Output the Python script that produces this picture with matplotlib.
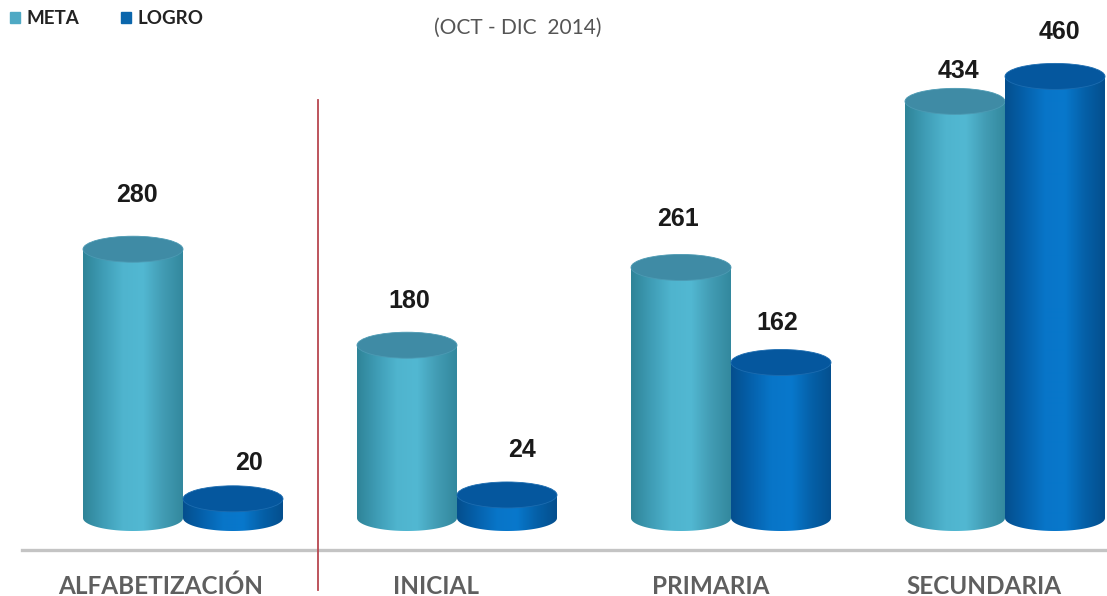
import numpy as np
import matplotlib
matplotlib.use('Agg')
import matplotlib.pyplot as plt
from matplotlib.colors import LinearSegmentedColormap
from matplotlib.patches import Ellipse, Patch, PathPatch
from matplotlib.path import Path

categories = ['ALFABETIZACIÓN', 'INICIAL', 'PRIMARIA', 'SECUNDARIA']
meta = [280, 180, 261, 434]
logro = [20, 24, 162, 460]

# px per unit on the picture: 274 px between groups, 0.96 px per value
PX_X = 274
PX_Y = 0.96
W = 100 / PX_X
RY = 13 / PX_Y

meta_cmap = LinearSegmentedColormap.from_list('meta', ['#2F8498', '#3F9DB6', '#4FB4CE', '#52B8D2', '#429CB4', '#33889E'])
logro_cmap = LinearSegmentedColormap.from_list('logro', ['#044F8E', '#0561AC', '#0875C8', '#0878CC', '#0560A8', '#044F8E'])
shade = np.linspace(0, 1, 200).reshape(1, -1)


def cylinder(ax, x, v, cmap, top, rim):
    left, right = x - W / 2, x + W / 2
    im = ax.imshow(shade, cmap=cmap, aspect='auto', extent=(left, right, -RY, v), zorder=2 + x)
    # body outline with the rounded bottom
    t = np.linspace(np.pi, 2 * np.pi, 60)
    bottom = np.column_stack((x + W / 2 * np.cos(t), RY * np.sin(t)))
    verts = np.vstack(([[left, v]], bottom, [[right, v]], [[left, v]]))
    body = PathPatch(Path(verts), transform=ax.transData, fc='none', ec='none')
    ax.add_patch(body)
    im.set_clip_path(body)
    ax.add_patch(Ellipse((x, v), W, 2 * RY, fc=top, ec=rim, lw=0.6, zorder=2.1 + x))


fig = plt.figure(figsize=(11.07, 5.96), dpi=100)
ax = fig.add_axes([0, 0, 1, 1])
ax.axis('off')

meta_x = [i - 50 / PX_X for i in range(4)]
logro_x = [i + 50 / PX_X for i in range(4)]

for x, v in zip(meta_x, meta):
    cylinder(ax, x, v, meta_cmap, '#3F8BA5', '#4C9AB3')
for x, v in zip(logro_x, logro):
    cylinder(ax, x, v, logro_cmap, '#05579E', '#1C6CB0')

ax.set_xlim(-183 / PX_X, (1107 - 183) / PX_X)
ax.set_ylim(-78 / PX_Y, 518 / PX_Y)

# baseline and red separator
ax.plot([(22 - 183) / PX_X, (1107 - 183) / PX_X], [-33, -33], color='#C4C4C4', lw=2.4, zorder=1)
ax.plot([(318 - 183) / PX_X] * 2, [-75, 435], color='#B8464F', lw=1.3, zorder=1)

# value labels sit at uneven heights in the reference
meta_off = [(4, 54), (2, 44), (-3, 48), (3, 30)]
logro_off = [(16, 36), (15, 45), (-4, 39), (4, 44)]
for xs, vals, offs in ((meta_x, meta, meta_off), (logro_x, logro, logro_off)):
    for x, v, (dx, dy) in zip(xs, vals, offs):
        ax.annotate(str(v), (x, v), xytext=(dx * 0.72, dy * 0.72), textcoords='offset points',
                    ha='center', va='center', fontsize=18, fontweight='bold',
                    family='Liberation Sans', color='#1A1A1A', zorder=10)

label_dx = [-22, -21, -20, -21]
for i, name in enumerate(categories):
    ax.text(i + label_dx[i] / PX_X, -68 / PX_Y, name, ha='center', va='center', fontsize=17.5,
            fontweight='bold', family='Lato', color='#5F5F5F')

ax.text((518 - 183) / PX_X, 490 / PX_Y, '(OCT - DIC  2014)', ha='center', va='center',
        fontsize=15, family='Lato', color='#555555')

handles = [Patch(color='#4FA9C4', label='META'), Patch(color='#0B66AC', label='LOGRO')]
ax.legend(handles=handles, loc='upper left', bbox_to_anchor=(0.009, 0.983), ncol=2, frameon=False,
          borderaxespad=0, borderpad=0, handlelength=0.53, handleheight=0.53, handletextpad=0.37,
          columnspacing=2.2, prop={'family': 'Lato', 'weight': 'bold', 'size': 13.5}, labelcolor='#222222')

fig.savefig('out.png', dpi=100)
